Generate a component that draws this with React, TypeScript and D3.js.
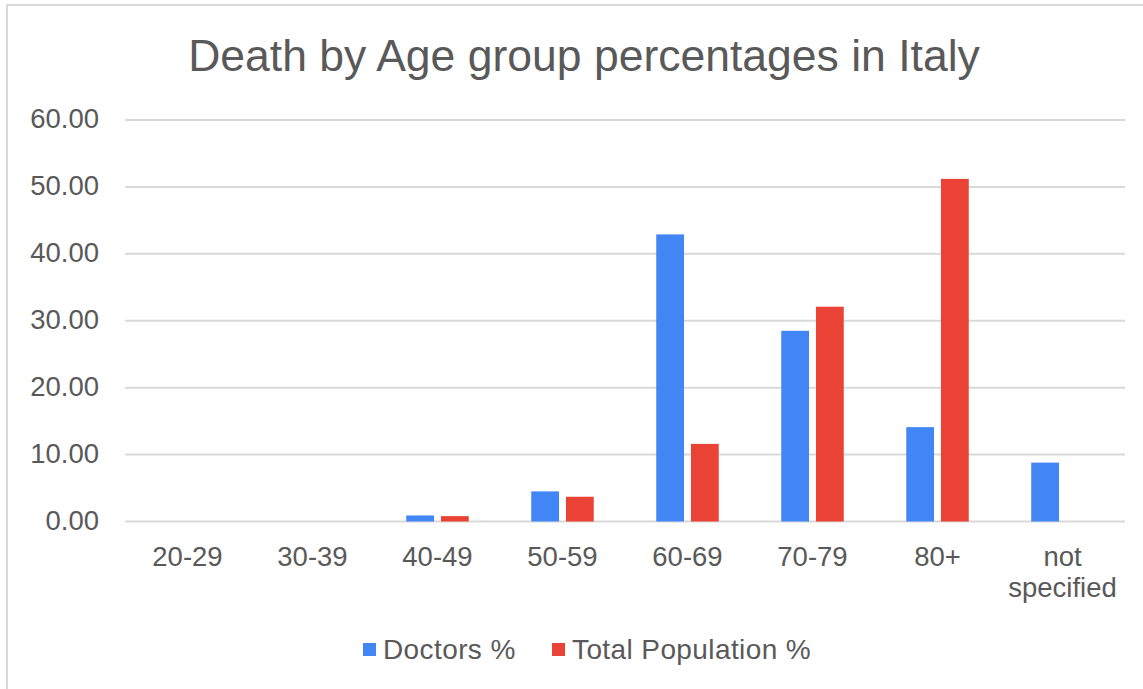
import { useEffect, useRef } from "react";
import * as d3 from "d3";

const ageGroups: string[] = ["20-29", "30-39", "40-49", "50-59", "60-69", "70-79", "80+", "not specified"];
const doctorsPct: number[] = [0, 0, 0.9, 4.5, 42.9, 28.5, 14.1, 8.8];
const populationPct: number[] = [0, 0, 0.8, 3.7, 11.6, 32.1, 51.2, 0];
const seriesNames: string[] = ["Doctors %", "Total Population %"];
const seriesColors: string[] = ["#4285f4", "#ea4335"];
const yTicks: number[] = [0, 10, 20, 30, 40, 50, 60];

const WIDTH = 1143;
const HEIGHT = 689;
const FONT = "'Liberation Sans', Arial, sans-serif";
const TEXT = "#595959";

function BarChart() {
  const svgRef = useRef<SVGSVGElement>(null);

  useEffect(() => {
    const svg = d3.select(svgRef.current);
    svg.selectAll("*").remove();

    const rows = ageGroups.map((g, i) => ({ group: g, values: [doctorsPct[i], populationPct[i]] }));

    const x0 = d3.scaleBand<string>().domain(ageGroups).range([125, 1125]).padding(0);
    const x1 = d3.scaleBand<number>()
      .domain([0, 1])
      .range([0, x0.bandwidth()])
      .paddingInner(0.2)
      .paddingOuter(0.9);
    const y = d3.scaleLinear().domain([0, 60]).range([521.5, 120]);

    // chart border (only top and left visible in the crop)
    svg.append("rect")
      .attr("x", 7).attr("y", 5)
      .attr("width", 1300).attr("height", 900)
      .attr("fill", "#fff")
      .attr("stroke", "#d9d9d9")
      .attr("stroke-width", 2);

    svg.append("text")
      .attr("x", 584).attr("y", 71)
      .attr("text-anchor", "middle")
      .attr("font-family", FONT)
      .attr("font-size", 44.5)
      .attr("fill", TEXT)
      .text("Death by Age group percentages in Italy");

    // gridlines + y labels
    const yAxis = svg.append("g");
    yAxis.selectAll("line")
      .data(yTicks)
      .join("line")
      .attr("x1", x0.range()[0]).attr("x2", x0.range()[1])
      .attr("y1", d => y(d)).attr("y2", d => y(d))
      .attr("stroke", "#d9d9d9")
      .attr("stroke-width", 2);
    yAxis.selectAll("text")
      .data(yTicks)
      .join("text")
      .attr("x", 99)
      .attr("y", d => y(d) + 8)
      .attr("text-anchor", "end")
      .attr("font-family", FONT)
      .attr("font-size", 27.5)
      .attr("fill", TEXT)
      .text(d => d3.format(".2f")(d));

    // bars
    svg.append("g")
      .selectAll("g")
      .data(rows)
      .join("g")
      .attr("transform", d => `translate(${x0(d.group)},0)`)
      .selectAll("rect")
      .data(d => d.values.map((v, k) => ({ v, k })))
      .join("rect")
      .attr("x", d => x1(d.k) ?? 0)
      .attr("width", x1.bandwidth())
      .attr("y", d => y(d.v))
      .attr("height", d => y(0) - y(d.v))
      .attr("fill", d => seriesColors[d.k]);

    // x labels (wrap on spaces)
    const xLabels = svg.append("g")
      .selectAll("text")
      .data(ageGroups)
      .join("text")
      .attr("text-anchor", "middle")
      .attr("font-family", FONT)
      .attr("font-size", 27.5)
      .attr("fill", TEXT);
    xLabels.each(function (d) {
      const t = d3.select(this);
      const cx = (x0(d) ?? 0) + x0.bandwidth() / 2;
      d.split(" ").forEach((word, i) => {
        t.append("tspan")
          .attr("x", cx)
          .attr("y", 566 + i * 31)
          .text(word);
      });
    });

    // legend
    const legendX = [363, 552];
    const legend = svg.append("g")
      .selectAll("g")
      .data(seriesNames)
      .join("g")
      .attr("transform", (_, i) => `translate(${legendX[i]},0)`);
    legend.append("rect")
      .attr("x", 0).attr("y", 643)
      .attr("width", 13).attr("height", 13)
      .attr("fill", (_, i) => seriesColors[i]);
    legend.append("text")
      .attr("x", 20).attr("y", 659)
      .attr("font-family", FONT)
      .attr("font-size", 28)
      .attr("letter-spacing", 0.4)
      .attr("fill", TEXT)
      .text(d => d);
  }, []);

  return (
    <svg
      ref={svgRef}
      width={WIDTH}
      height={HEIGHT}
      style={{ position: "absolute", left: 0, top: 0, display: "block", background: "#fff" }}
    />
  );
}

export default function App() {
  return <BarChart />;
}
